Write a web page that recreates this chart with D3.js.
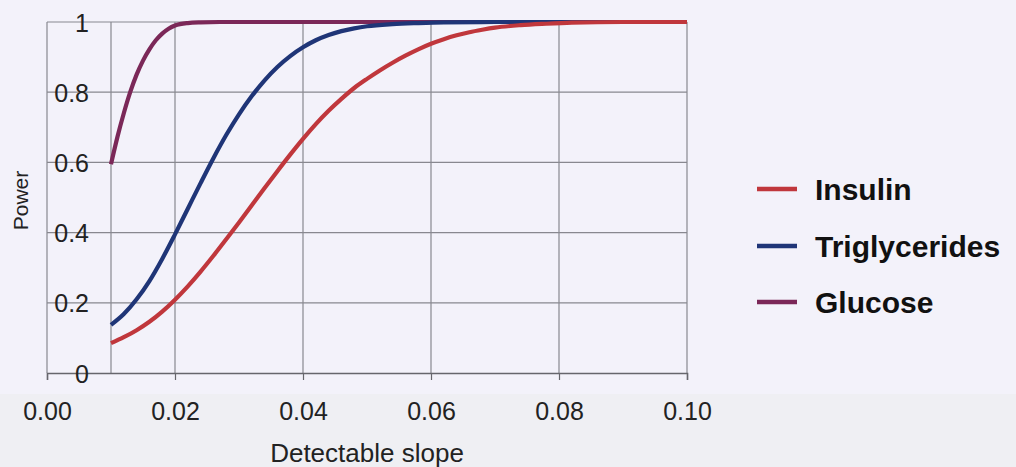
<!DOCTYPE html>
<html lang="en">
  <head>
    <meta charset="UTF-8" />
    <title>Power vs detectable slope</title>
    <script src="https://d3js.org/d3.v7.min.js"></script>
    <style>
      body { margin: 0; background: #f3f2fa; }
      svg { display: block; font-family: 'Liberation Sans', Arial, sans-serif; }
    </style>
  </head>
  <body>
    <svg width="1016" height="467"></svg>

    <script>
      // Data
      const seriesNames = ['Insulin', 'Triglycerides', 'Glucose'];
      const seriesColors = ['#c0373c', '#1f3577', '#7b2858'];

      const insulinX = [0.010, 0.012, 0.014, 0.016, 0.018, 0.020, 0.022, 0.024, 0.026, 0.028, 0.030, 0.032, 0.034, 0.036, 0.038, 0.040, 0.042, 0.044, 0.046, 0.048, 0.050, 0.052, 0.054, 0.056, 0.058, 0.060, 0.062, 0.064, 0.066, 0.068, 0.070, 0.074, 0.078, 0.082, 0.090, 0.100];
      const insulinY = [0.085, 0.102, 0.122, 0.146, 0.175, 0.209, 0.247, 0.289, 0.334, 0.381, 0.429, 0.478, 0.527, 0.575, 0.622, 0.667, 0.709, 0.747, 0.781, 0.812, 0.838, 0.862, 0.884, 0.904, 0.922, 0.938, 0.951, 0.962, 0.971, 0.978, 0.984, 0.991, 0.995, 0.998, 1, 1];

      const trigX = [0.010, 0.012, 0.014, 0.016, 0.018, 0.020, 0.022, 0.024, 0.026, 0.028, 0.030, 0.032, 0.034, 0.036, 0.038, 0.040, 0.042, 0.044, 0.046, 0.048, 0.050, 0.054, 0.058, 0.062, 0.070, 0.100];
      const trigY = [0.137, 0.168, 0.210, 0.262, 0.325, 0.395, 0.468, 0.541, 0.612, 0.678, 0.737, 0.789, 0.834, 0.872, 0.903, 0.928, 0.948, 0.963, 0.974, 0.982, 0.988, 0.994, 0.997, 0.999, 1, 1];

      const glucoseX = [0.010, 0.011, 0.012, 0.013, 0.014, 0.015, 0.016, 0.017, 0.018, 0.019, 0.020, 0.022, 0.024, 0.027, 0.030, 0.100];
      const glucoseY = [0.595, 0.672, 0.740, 0.800, 0.850, 0.890, 0.922, 0.948, 0.967, 0.981, 0.990, 0.997, 0.999, 1, 1, 1];

      const xTicks = [0, 0.02, 0.04, 0.06, 0.08, 0.1];
      const xGrid = [0, 0.01, 0.02, 0.04, 0.06, 0.08, 0.1];
      const yTicks = [0, 0.2, 0.4, 0.6, 0.8, 1];

      const svg = d3.select('svg');
      const margin = { left: 47, right: 329, top: 22, bottom: 94 };
      const width = 1016, height = 467;

      const x = d3.scaleLinear().domain([0, 0.1]).range([margin.left, width - margin.right]);
      const y = d3.scaleLinear().domain([0, 1]).range([height - margin.bottom, margin.top]);

      // slightly greyer band below the plot (scan)
      svg.append('rect')
        .attr('x', 0).attr('y', 394).attr('width', width).attr('height', height - 394)
        .attr('fill', '#efeff3');

      // Grid
      svg.append('g')
        .selectAll('line')
        .data(xGrid)
        .enter()
        .append('line')
        .attr('x1', (d) => x(d)).attr('x2', (d) => x(d))
        .attr('y1', y(1)).attr('y2', y(0))
        .attr('stroke', '#88888f')
        .attr('stroke-width', 1.2);

      svg.append('g')
        .selectAll('line')
        .data(yTicks.filter((d) => d > 0))
        .enter()
        .append('line')
        .attr('x1', x(0)).attr('x2', x(0.1))
        .attr('y1', (d) => y(d)).attr('y2', (d) => y(d))
        .attr('stroke', '#88888f')
        .attr('stroke-width', 1.2);

      // x axis
      const xAxis = d3.axisBottom(x)
        .tickValues(xTicks)
        .tickSize(7)
        .tickPadding(22)
        .tickFormat(d3.format('.2f'));

      const gx = svg.append('g')
        .attr('transform', `translate(0,${y(0)})`)
        .call(xAxis);
      gx.select('.domain').attr('stroke', '#66666c').attr('stroke-width', 1.5);
      gx.selectAll('.tick line').attr('stroke', '#66666c').attr('stroke-width', 1.2);
      gx.selectAll('.tick text')
        .attr('font-size', 25)
        .attr('fill', '#222')
        .attr('font-family', "'Liberation Sans', Arial, sans-serif");

      // y labels drawn over the grid, inside the plot
      const yAxis = d3.axisLeft(y)
        .tickValues(yTicks)
        .tickSize(0)
        .tickPadding(0)
        .tickFormat((d) => (d === 0 || d === 1 ? d3.format('d')(d) : d3.format('.1f')(d)));

      const gy = svg.append('g')
        .attr('transform', 'translate(89,0)')
        .call(yAxis);
      gy.select('.domain').remove();
      gy.selectAll('.tick text')
        .attr('font-size', 25)
        .attr('fill', '#222')
        .attr('dy', '0.36em')
        .attr('font-family', "'Liberation Sans', Arial, sans-serif");

      // Lines
      const line = d3.line()
        .x((d) => x(d[0]))
        .y((d) => y(d[1]))
        .curve(d3.curveMonotoneX);

      const series = [
        d3.zip(insulinX, insulinY),
        d3.zip(trigX, trigY),
        d3.zip(glucoseX, glucoseY),
      ];

      // glucose first, then triglycerides, insulin on top
      [2, 1, 0].forEach((i) => {
        svg.append('path')
          .datum(series[i])
          .attr('d', line)
          .attr('fill', 'none')
          .attr('stroke', seriesColors[i])
          .attr('stroke-width', 4.2)
          .attr('stroke-linejoin', 'round');
      });

      // Axis titles
      svg.append('text')
        .attr('x', x(0.05))
        .attr('y', 462)
        .attr('text-anchor', 'middle')
        .attr('font-size', 26)
        .attr('fill', '#222')
        .text('Detectable slope');

      svg.append('text')
        .attr('transform', `translate(28,${y(0.5) + 3}) rotate(-90)`)
        .attr('text-anchor', 'middle')
        .attr('font-size', 21)
        .attr('fill', '#222')
        .text('Power');

      // Legend
      const legendY = [189, 246, 302];
      const legend = svg.append('g')
        .selectAll('g')
        .data(seriesNames)
        .enter()
        .append('g')
        .attr('transform', (d, i) => `translate(757,${legendY[i]})`);

      legend.append('line')
        .attr('x1', 0).attr('x2', 40)
        .attr('stroke', (d, i) => seriesColors[i])
        .attr('stroke-width', 4.5);

      legend.append('text')
        .attr('x', 58)
        .attr('dy', '0.36em')
        .attr('font-size', 30)
        .attr('font-weight', 'bold')
        .attr('fill', '#111')
        .text((d) => d);
    </script>
  </body>
</html>
